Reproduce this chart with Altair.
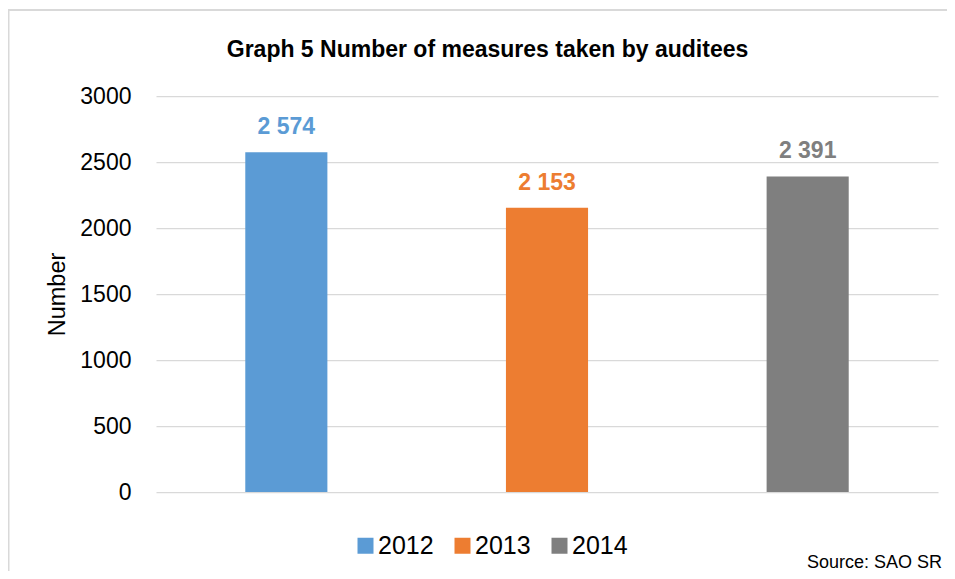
import altair as alt
import pandas as pd

# ---- data ----
years = ["2012", "2013", "2014"]
measures = [2574, 2153, 2391]
colors = ["#5B9BD5", "#ED7D31", "#7F7F7F"]
y_ticks = [0, 500, 1000, 1500, 2000, 2500, 3000]
title_text = ["Graph 5 Number of measures taken by auditees"]
y_title = "Number"
source_text = ["Source: SAO SR"]

FONT = "Liberation Sans Narrow, Arial Narrow, Liberation Sans, Arial, sans-serif"

df = pd.DataFrame({"year": years, "value": measures})
color_scale = alt.Scale(domain=years, range=colors)

x_enc = alt.X("year:N", axis=None, sort=years,
              scale=alt.Scale(paddingInner=0.685, paddingOuter=0.3425))
y_enc = alt.Y(
    "value:Q",
    scale=alt.Scale(domain=[0, 3000], nice=False),
    axis=alt.Axis(
        values=y_ticks, format="d", title=y_title,
        titleFont=FONT, titleFontSize=23.5, titleFontWeight="normal", titleColor="black",
        titleAngle=270, titleX=-99, titleY=198, titleAlign="center", titleBaseline="middle",
        labelFont=FONT, labelFontSize=23, labelColor="black", labelPadding=25,
        ticks=False, domain=False, grid=True, gridColor="#D9D9D9", gridWidth=1.25,
    ),
)

bars = alt.Chart(df).mark_bar().encode(
    x=x_enc,
    y=y_enc,
    color=alt.Color(
        "year:N", scale=color_scale, sort=years,
        legend=alt.Legend(
            orient="none", legendX=197, legendY=437, direction="horizontal", title=None,
            symbolType="square", symbolSize=256, symbolStrokeWidth=0,
            labelFont=FONT, labelFontSize=25, labelColor="black",
            labelOffset=0, columnPadding=16,
        ),
    ),
)

labels = alt.Chart(df).transform_calculate(
    label="replace(format(datum.value, ','), ',', ' ')"
).mark_text(
    dy=-18, baseline="alphabetic", align="center",
    fontSize=23, fontWeight="bold", font=FONT,
).encode(
    x=x_enc, y=alt.Y("value:Q"), text="label:N",
    color=alt.Color("year:N", scale=color_scale, legend=None),
)

title = alt.Chart(pd.DataFrame({"t": title_text})).mark_text(
    font=FONT, fontSize=23, fontWeight="bold", color="black",
    align="center", baseline="alphabetic",
).encode(text="t:N", x=alt.value(331.5), y=alt.value(-39))

source = alt.Chart(pd.DataFrame({"t": source_text})).mark_text(
    font=FONT, fontSize=18, color="black", align="right", baseline="alphabetic",
).encode(text="t:N", x=alt.value(786), y=alt.value(472))

border = alt.Chart(pd.DataFrame({"b": [0]})).mark_rect(
    filled=False, stroke="#D9D9D9", strokeWidth=2
).encode(x=alt.value(-147.5), x2=alt.value(900), y=alt.value(-86), y2=alt.value(700))

chart = alt.layer(border, bars, labels, title, source).properties(
    width=782, height=396,
    autosize=alt.AutoSizeParams(type="none"),
    padding={"left": 148, "top": 88, "right": 9, "bottom": 79},
    background="white",
).configure_view(strokeWidth=0)

chart.save("out.html", embed_options={"renderer": "svg", "actions": False})
